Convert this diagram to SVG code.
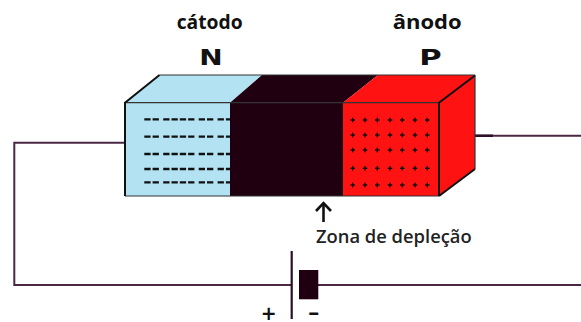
<svg xmlns="http://www.w3.org/2000/svg" width="581" height="322" viewBox="0 0 581 322">
  <style>
    .edge { stroke: #111; stroke-width: 2; fill: none; stroke-linejoin: miter; }
    .thin { stroke: #333; stroke-width: 1.2; fill: none; }
    .wire { stroke: #4a2845; stroke-width: 2; fill: none; }
    .dash { stroke: #111; stroke-width: 2.3; stroke-dasharray: 6.3 2 6.3 4.3 6.3 2 6.3 2 6.3 2 6.3 4.3; }
    .plus { fill: #111; }
    .label { font-family: "Open Sans", "DejaVu Sans", sans-serif; font-weight: bold; fill: #111; }
    .heavy { font-family: "DejaVu Sans", "Liberation Sans", sans-serif; font-weight: 900; fill: #111; }
    .note { font-family: "Open Sans", "DejaVu Sans", sans-serif; font-weight: 600; fill: #222; }
  </style>
  <defs>
    <g id="pl">
      <rect x="-2.3" y="-0.7" width="4.6" height="1.4" class="plus"/>
      <rect x="-0.7" y="-2.3" width="1.4" height="4.6" class="plus"/>
    </g>
  </defs>

  <rect width="581" height="322" fill="#ffffff"/>

  <!-- circuit wiring -->
  <g id="connectors">
    <polyline class="wire" points="126,142.7 14.3,142.7 14.3,285 291.7,285"/>
    <line class="wire" x1="318" y1="285" x2="581" y2="285"/>
    <line class="wire" x1="459" y1="135.7" x2="581" y2="135.7"/>
    <line x1="459" y1="135.7" x2="493" y2="135.7" stroke="#2a1028" stroke-width="2.4"/>
  </g>

  <!-- N-type region (cathode side) -->
  <g id="n-region">
    <polygon points="125,102.7 159.5,75 262,75 230,102.7" fill="#b3e3f3"/>
    <rect x="125" y="102.7" width="105" height="93.3" fill="#b3e3f3"/>
    <line class="dash" x1="144.3" y1="119.3" x2="230" y2="119.3"/>
    <line class="dash" x1="144.3" y1="136.7" x2="230" y2="136.7"/>
    <line class="dash" x1="144.3" y1="154" x2="230" y2="154"/>
    <line class="dash" x1="144.3" y1="169" x2="230" y2="169"/>
    <line class="dash" x1="144.3" y1="182.3" x2="230" y2="182.3"/>
  </g>

  <!-- depletion zone -->
  <g id="depletion">
    <polygon points="230,102.7 262,75 378,75 343,102.7 343,196 230,196" fill="#200010"/>
  </g>

  <!-- P-type region (anode side) -->
  <g id="p-region">
    <polygon points="343,102.7 378,75 475,75 439,102.7" fill="#ff1212"/>
    <rect x="343" y="102.7" width="96" height="93.3" fill="#ff1212"/>
    <polygon points="439,102.7 475,75.5 475,169 439,196" fill="#ff1212"/>
    <g>
      <use href="#pl" x="352.7" y="120"/><use href="#pl" x="365" y="120"/><use href="#pl" x="377.3" y="120"/><use href="#pl" x="390" y="120"/><use href="#pl" x="402.3" y="120"/><use href="#pl" x="415" y="120"/><use href="#pl" x="427.3" y="120"/>
      <use href="#pl" x="352.7" y="135"/><use href="#pl" x="365" y="135"/><use href="#pl" x="377.3" y="135"/><use href="#pl" x="390" y="135"/><use href="#pl" x="402.3" y="135"/><use href="#pl" x="415" y="135"/><use href="#pl" x="427.3" y="135"/>
      <use href="#pl" x="352.7" y="150"/><use href="#pl" x="365" y="150"/><use href="#pl" x="377.3" y="150"/><use href="#pl" x="390" y="150"/><use href="#pl" x="402.3" y="150"/><use href="#pl" x="415" y="150"/><use href="#pl" x="427.3" y="150"/>
      <use href="#pl" x="352.7" y="168.3"/><use href="#pl" x="365" y="168.3"/><use href="#pl" x="377.3" y="168.3"/><use href="#pl" x="390" y="168.3"/><use href="#pl" x="402.3" y="168.3"/><use href="#pl" x="415" y="168.3"/><use href="#pl" x="427.3" y="168.3"/>
      <use href="#pl" x="352.7" y="185"/><use href="#pl" x="365" y="185"/><use href="#pl" x="377.3" y="185"/><use href="#pl" x="390" y="185"/><use href="#pl" x="402.3" y="185"/><use href="#pl" x="415" y="185"/><use href="#pl" x="427.3" y="185"/>
    </g>
  </g>

  <!-- block outline -->
  <g id="outline">
    <line class="thin" x1="159.5" y1="75" x2="475" y2="75"/>
    <line class="thin" x1="125" y1="102.7" x2="439" y2="102.7"/>
    <line class="thin" x1="125" y1="196" x2="439" y2="196"/>
    <line class="thin" x1="475" y1="75" x2="475" y2="169"/>
    <polyline class="edge" points="125,196 125,102.7 159.5,75"/>
    <polyline class="edge" points="439,196 439,102.7 475,75.5"/>
    <line class="edge" x1="439" y1="196" x2="475" y2="169"/>
  </g>

  <!-- battery -->
  <g id="battery">
    <line x1="291.7" y1="251" x2="291.7" y2="319" stroke="#2a1028" stroke-width="2.2"/>
    <rect x="299" y="270" width="19.3" height="29.3" fill="#200010"/>
    <text class="heavy" x="268.7" y="319.5" font-size="19" text-anchor="middle">+</text>
    <text class="heavy" x="313.8" y="318.5" font-size="18" text-anchor="middle" textLength="12" lengthAdjust="spacingAndGlyphs">-</text>
  </g>

  <!-- labels -->
  <g id="labels">
    <text class="label" x="176.7" y="29.3" font-size="19" textLength="66" lengthAdjust="spacingAndGlyphs">cátodo</text>
    <text class="label" x="392.7" y="29.3" font-size="19" textLength="69" lengthAdjust="spacingAndGlyphs">ânodo</text>
    <text class="heavy" x="199.3" y="65.3" font-size="22" textLength="23.4" lengthAdjust="spacingAndGlyphs">N</text>
    <text class="heavy" x="419.3" y="65.3" font-size="22" textLength="22.4" lengthAdjust="spacingAndGlyphs">P</text>
  </g>

  <!-- depletion zone pointer -->
  <g id="depletion-label">
    <line x1="323.5" y1="203" x2="323.5" y2="222" stroke="#111" stroke-width="2.6"/>
    <polyline points="316,211 323.5,203.2 331,211" stroke="#111" stroke-width="2.6" fill="none"/>
    <text class="note" x="316" y="243.3" font-size="18" textLength="155.7" lengthAdjust="spacingAndGlyphs">Zona de depleção</text>
  </g>
</svg>
